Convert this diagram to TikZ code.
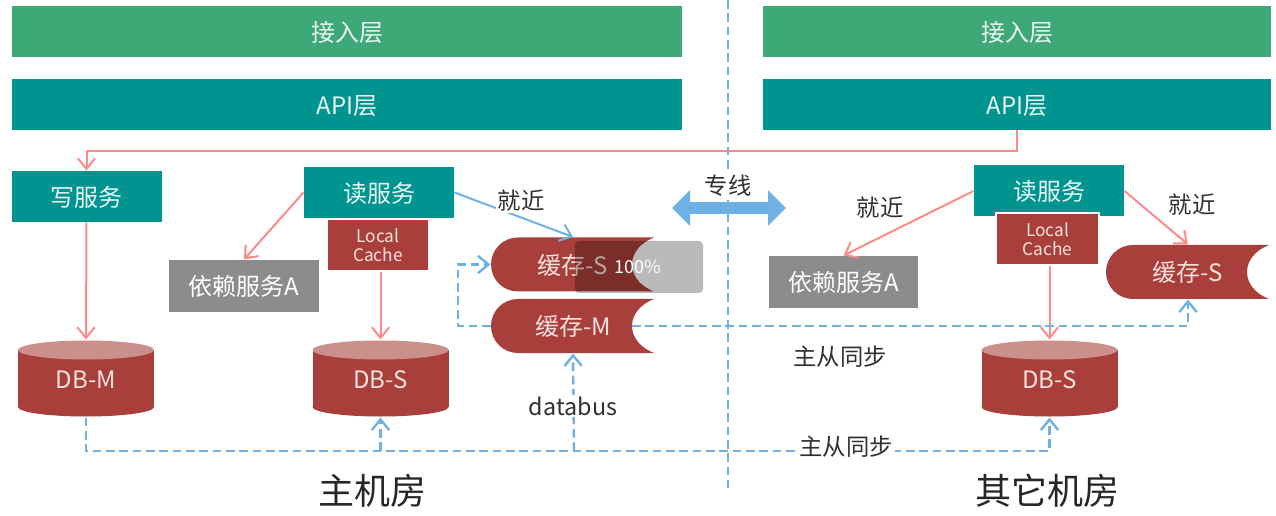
\documentclass[tikz,border=0pt]{standalone}
\usepackage{fontspec}
\setmainfont{Noto Sans CJK SC}
\usetikzlibrary{arrows.meta}

\definecolor{layergreen}{RGB}{62,168,118}
\definecolor{svcteal}{RGB}{0,148,144}
\definecolor{dbred}{RGB}{169,63,58}
\definecolor{dbtop}{RGB}{203,143,140}
\definecolor{depgray}{RGB}{140,140,140}
\definecolor{linkpink}{RGB}{255,138,138}
\definecolor{linkblue}{RGB}{111,177,228}
\definecolor{labelink}{RGB}{48,48,48}
\definecolor{paletext}{RGB}{232,246,244}
\definecolor{redtext}{RGB}{248,226,222}

\tikzset{every picture/.style={line width=0.75pt}}
\tikzset{
  boxfont/.style={text height=14.5pt,text depth=0pt,font=\fontsize{18}{21}\selectfont},
  layerbar/.style={minimum height=38.25pt,inner sep=0pt,text=paletext,boxfont},
  accessbar/.style={layerbar,fill=layergreen},
  apibar/.style={layerbar,fill=svcteal},
  svcbox/.style={minimum width=112.5pt,minimum height=38.25pt,inner sep=0pt,fill=svcteal,text=paletext,boxfont},
  depbox/.style={minimum width=112pt,minimum height=39pt,inner sep=0pt,fill=depgray,text=white,boxfont},
  cachebox/.style={minimum width=77pt,minimum height=39pt,inner sep=0pt,fill=dbred,draw=white,line width=1.5pt,text=redtext,align=center,font=\fontsize{13}{15}\selectfont},
  drumlabel/.style={minimum width=102pt,minimum height=57.75pt,inner sep=0pt,text=redtext,boxfont},
  pilllabel/.style={minimum width=123pt,minimum height=40.5pt,inner sep=0pt,text=redtext,boxfont},
  tag/.style={inner sep=1.5pt,fill=white,text=labelink,font=\fontsize{17.5}{20}\selectfont},
  roomtag/.style={inner sep=0pt,text=black!85,font=\fontsize{27}{31}\selectfont},
  pinkline/.style={draw=linkpink,line width=1.5pt,-{Straight Barb[length=8pt,width=13pt]}},
  blueline/.style={draw=linkblue,line width=1.5pt,-{Straight Barb[length=8pt,width=13pt]}},
  syncline/.style={draw=linkblue,line width=1.8pt,dash pattern=on 6.5pt off 3.5pt,-{Straight Barb[length=8pt,width=13pt]}},
}

% drum: centre x, top y
\newcommand{\drumshape}[2]{
  \fill [dbred] (#1,#2+67) ellipse [x radius=68,y radius=9.5];
  \fill [dbred] (#1-68,#2+10) rectangle (#1+68,#2+67);
  \fill [dbtop] (#1,#2+10) ellipse [x radius=68,y radius=9.5];
}
% pill with hollow end: left x, middle y
\newcommand{\pillshape}[2]{
  \fill [dbred] (#1+27,#2-27) -- (#1+163,#2-27) .. controls (#1+150,#2-22) and (#1+141,#2-12) .. (#1+141,#2) .. controls (#1+141,#2+12) and (#1+150,#2+22) .. (#1+163,#2+27) -- (#1+27,#2+27) .. controls (#1+12,#2+27) and (#1,#2+15) .. (#1,#2) .. controls (#1,#2-15) and (#1+12,#2-27) .. (#1+27,#2-27) -- cycle;
}

\begin{document}
\begin{tikzpicture}[x=0.75pt,y=0.75pt,yscale=-1,xscale=1]
\useasboundingbox (0,0) rectangle (1276,516);

% Split line
\coordinate (splittop) at (728,0);
\coordinate (splitbot) at (728,488);
\draw [draw=linkblue,line width=1.2pt,dash pattern=on 6.5pt off 3.5pt] (splittop) -- (splitbot);

% Layers
\node (accessl) [accessbar,minimum width=502.5pt] at (347,31.5) {接入层};
\node (accessr) [accessbar,minimum width=381pt] at (1017,31.5) {接入层};
\node (apil) [apibar,minimum width=502.5pt] at (347,104.5) {API层};
\node (apir) [apibar,minimum width=381pt] at (1017,104.5) {API层};

% Services
\node (writesvc) [svcbox] at (86.5,196.5) {写服务};
\node (readl) [svcbox] at (379,192.5) {读服务};
\node (readr) [svcbox] at (1049,191) {读服务};
\node (depl) [depbox] at (244,286) {依赖服务A};
\node (depr) [depbox] at (843.5,282) {依赖服务A};
\node (localcl) [cachebox] at (378,245) {Local\\[-1pt]Cache};
\node (localcr) [cachebox] at (1047.5,239) {Local\\[-1pt]Cache};

% Drums
\drumshape{86}{340}
\drumshape{380.5}{340}
\drumshape{1049.5}{340}
\node (dbm) [drumlabel] at (86,378.5) {DB-M};
\node (dbsl) [drumlabel] at (380.5,378.5) {DB-S};
\node (dbsr) [drumlabel] at (1049.5,378.5) {DB-S};

% Pills
\pillshape{491}{264.5}
\pillshape{491}{326}
\pillshape{1106}{272}
\node (cachesl) [pilllabel] at (573,264.5) {缓存-S};
\node (cachem) [pilllabel] at (573,326) {缓存-M};
\node (cachesr) [pilllabel] at (1188,272) {缓存-S};

% Load overlay
\node (overlay) [minimum width=96pt,minimum height=39pt,inner sep=0pt,rounded corners=3pt,fill=black,fill opacity=0.27] at (639,267) {};
\node (pct) [inner sep=0pt,text=white,font=\fontsize{13.5}{16}\selectfont] at (638,267) {100\%};

% Pink connectors
\coordinate (apibus) at (86.5,151);
\draw [pinkline] (apir.south) |- (apibus) -- (writesvc.north);
\draw [pinkline] (writesvc.south) -- (dbm.north);
\draw [pinkline] (readl.west) -- (depl.north);
\draw [pinkline] (localcl.south -| dbsl.north) -- (dbsl.north);
\draw [pinkline] (readr.west) -- (depr.north);
\draw [pinkline] (localcr.south -| dbsr.north) -- (dbsr.north);
\draw [pinkline] (readr.east) -- (cachesr.north);

% Blue connector
\draw [blueline] (readl.east) -- (cachesl.north);

% Sync lines
\coordinate (busl) at (86,451);
\coordinate (busr) at (1049.5,451);
\coordinate (busdbs) at (380.5,451);
\coordinate (busdata) at (574,451);
\coordinate (cachehollow) at (632,326);
\coordinate (cachebend) at (1188,326);
\coordinate (loopbot) at (458,326);
\coordinate (looptop) at (458,264.5);
\draw [syncline] (dbm.south) -- (busl) -- (busr) -- (dbsr.south);
\draw [syncline] (busdbs) -- (dbsl.south);
\draw [syncline] (busdata) -- (cachem.south);
\draw [syncline] (cachehollow) -- (cachebend) -- (cachesr.south);
\draw [syncline] (cachem.west) -- (loopbot) -- (looptop) -- (cachesl.west);

% Double arrow
\coordinate (linkl) at (672,208);
\coordinate (linkr) at (786,208);
\draw [draw=linkblue,line width=8.5pt,{Triangle[length=13.5pt,width=26pt]}-{Triangle[length=13.5pt,width=26pt]}] (linkl) -- (linkr);

% Text Node
\node (nearl) [tag] at (521,200.5) {就近};
\node (nearr) [tag] at (880,207.5) {就近};
\node (nearc) [tag] at (1192,204.5) {就近};
\node (dedicated) [tag] at (728,186) {专线};
\node (syncup) [tag] at (840,356.5) {主从同步};
\node (syncdown) [tag] at (846,446.5) {主从同步};
\node (databus) [tag] at (573,406) {databus};
\node (roomm) [roomtag] at (372,491) {主机房};
\node (roomo) [roomtag] at (1047,491) {其它机房};

\end{tikzpicture}
\end{document}
